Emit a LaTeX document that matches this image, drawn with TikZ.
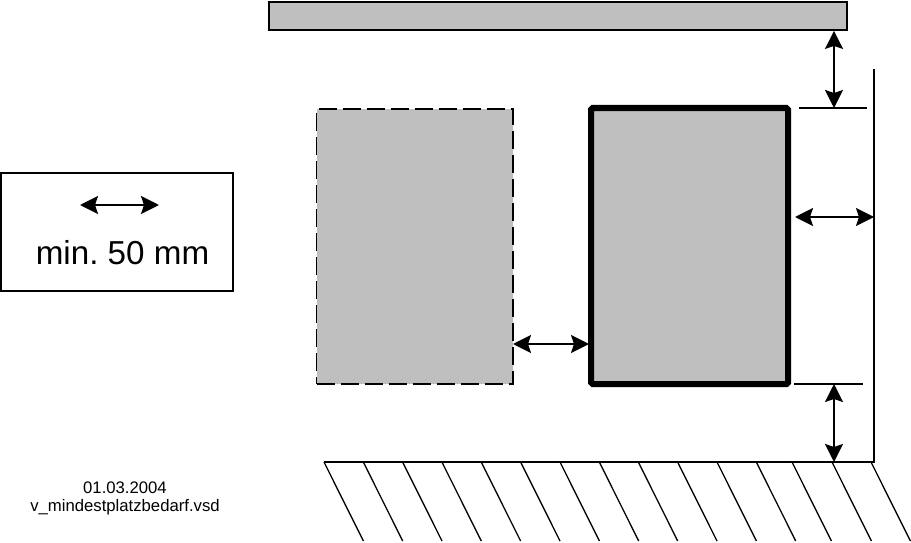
\documentclass[tikz,border=0pt]{standalone}
\usepackage{fontspec}
\setmainfont{Liberation Sans}
\usetikzlibrary{arrows.meta,calc}
\definecolor{boxgray}{HTML}{BFBFBF}
\tikzset{
  x=1pt,y=-1pt,
  box/.style={anchor=north west,inner sep=0pt,outer sep=0pt,fill=boxgray,draw=black},
  dim/.style={line width=2pt,{Stealth[length=18pt,width=18pt,inset=3pt]}-{Stealth[length=18pt,width=18pt,inset=3pt]}},
  thin line/.style={line width=1.6pt},
  hatch/.style={line width=1.3pt},
  lab/.style={inner sep=0pt,font=\fontsize{16.7}{18}\selectfont}
}
\begin{document}
\begin{tikzpicture}
\useasboundingbox (0,0) rectangle (911,543);
% shapes
\node[box,line width=2pt,minimum width=578pt,minimum height=28pt] (bar) at (268.7,2) {};
\node[box,dash pattern=on 18pt off 6pt,line width=1.3pt,minimum width=196.5pt,minimum height=275pt] (ghost) at (316.5,109) {};
\node[box,line width=6pt,rounded corners=1.5pt,minimum width=197pt,minimum height=276pt] (unit) at (591,108) {};
\node[anchor=north west,draw=black,line width=2pt,inner sep=0pt,outer sep=0pt,minimum width=232pt,minimum height=118pt] (legend) at (1,173) {};
% legend content
\coordinate (la) at (80,205);
\coordinate (lb) at (159,205);
\draw[dim] (la) -- (lb);
\node[inner sep=0pt,font=\fontsize{33.2}{36}\selectfont] (legtext) at (122.5,253) {min.\ 50 mm};
% wall and floor
\coordinate (walltop) at (874,69);
\coordinate (corner) at (874,462);
\coordinate (floorleft) at (324,462);
\draw[line width=2pt] (walltop) -- (corner) -- (floorleft);
\foreach \s in {324,363.3,402.6,441.9,481.2,520.6,560,599.3,638.3,677.6,717,756.3,792,832,871}{
  \draw[hatch] (\s,462) -- (\s+39.4,541);
}
% extension lines
\coordinate (e1a) at (799,108);
\coordinate (e1b) at (867,108);
\coordinate (e2a) at (794,384);
\coordinate (e2b) at (863,384);
\draw[thin line] (e1a) -- (e1b);
\draw[thin line] (e2a) -- (e2b);
% dimension arrows
\coordinate (t1) at (834,30.9);
\coordinate (t2) at (834,108);
\draw[dim] (t1) -- (t2);
\coordinate (r1) at (795,217);
\coordinate (r2) at (874,217);
\draw[dim] (r1) -- (r2);
\coordinate (g1) at (ghost.east |- 0,344);
\coordinate (g2) at ($(unit.west |- 0,344)+(-2,0)$);
\draw[dim] (g1) -- (g2);
\coordinate (b1) at (834,384);
\coordinate (b2) at (834,462);
\draw[dim] (b1) -- (b2);
% captions
\node[lab] (date) at (125,487.5) {01.03.2004};
\node[lab] (file) at (125,507.5) {v\_mindestplatzbedarf.vsd};
\end{tikzpicture}
\end{document}
